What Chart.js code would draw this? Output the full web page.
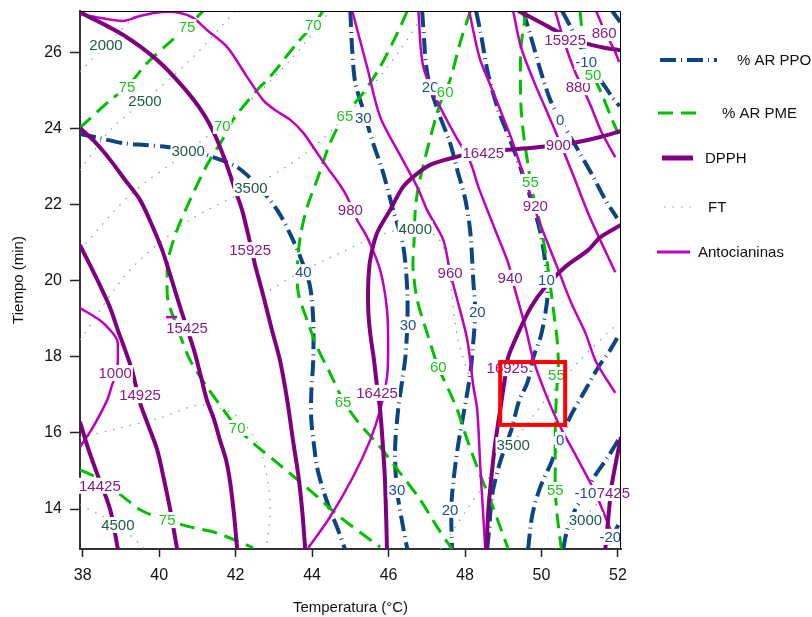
<!DOCTYPE html>
<html>
<head>
<meta charset="utf-8">
<script src="https://cdn.jsdelivr.net/npm/chart.js@4.4.1/dist/chart.umd.min.js"></script>
<style>
  html, body { margin: 0; padding: 0; background: #fff; }
</style>
</head>
<body>
<canvas id="contour-Chart" width="812" height="617"></canvas>
<script>
// 軸
const xTicks = [38, 40, 42, 44, 46, 48, 50, 52];
const yTicks = [14, 16, 18, 20, 22, 24, 26];

// % AR PPO
const ppo40 = [[37.93,23.85],[38.45,23.74],[39.06,23.61],[39.63,23.56],[40.21,23.51],[40.81,23.43],[41.41,23.24],[42.04,22.98],[42.56,22.51],[43.09,21.85],[43.5,21.07],[43.77,20.41],[43.95,19.83],[44.03,18.96],[44.03,17.91],[43.98,17.05],[43.98,16.34],[44.05,15.68],[44.13,15.1],[44.29,14.5],[44.47,13.98],[44.68,13.45],[44.86,12.95]];
const ppo30 = [[45,27.08],[45.05,26.05],[45.13,25.19],[45.34,24.48],[45.57,23.69],[45.86,22.83],[46.12,21.85],[46.38,20.93],[46.49,19.75],[46.49,18.83],[46.44,17.99],[46.36,17.39],[46.25,16.6],[46.17,15.55],[46.22,14.5],[46.38,13.53],[46.49,12.95]];
const ppo20 = [[46.88,27.08],[46.93,26.32],[46.98,25.66],[47.09,25.08],[47.35,24.3],[47.61,23.61],[47.8,22.9],[48.01,22.12],[48.14,21.25],[48.22,19.94],[48.27,19.17],[48.22,18.44],[48.14,17.57],[47.98,16.6],[47.82,15.68],[47.69,14.68],[47.64,13.98],[47.66,12.95]];
const ppo10 = [[48.29,27.08],[48.42,26.45],[48.61,25.4],[48.87,24.48],[49.18,23.69],[49.47,22.9],[49.73,22.12],[49.97,21.27],[50.1,20.49],[50.15,19.96],[50.15,19.49],[49.99,18.57],[49.79,17.99],[49.63,17.31],[49.42,16.86],[49.21,16.08],[48.92,15.24],[48.71,14.37],[48.63,13.45],[48.58,12.95]];
const ppo0a = [[49.52,27.08],[49.71,26.45],[49.97,25.53],[50.23,24.74],[50.49,24.22],[50.88,23.56],[51.33,22.77],[51.67,22.12],[51.98,21.64]];
const ppo0b = [[51.98,18.49],[51.8,18.18],[51.49,17.73],[51.15,17.13],[50.75,16.42],[50.49,15.81],[50.23,15.16],[49.97,14.58],[49.76,13.84],[49.65,12.95]];
const ppoM10a = [[50.54,27.08],[50.78,26.63],[51.01,26.19],[51.17,25.74],[51.54,25.27],[51.85,24.82],[52.04,24.58]];
const ppoM10b = [[52.01,15.81],[51.72,15.34],[51.41,14.89],[51.15,14.42],[50.88,13.98],[50.67,13.45],[50.57,12.95]];
const ppoM20a = [[51.85,27.08],[52.06,26.79]];
const ppoM20b = [[52.01,13.58],[51.85,13.27],[51.67,12.95]];

// % AR PME
const pme75a = [[37.93,24.01],[38.72,24.74],[39.16,25.08],[39.68,25.71],[40.29,26.27],[40.73,26.66],[41.15,27.08]];
const pme70 = [[44.29,27.08],[44.03,26.71],[43.61,26.24],[42.9,25.35],[42.56,25],[41.93,24.22],[41.65,23.69],[41.25,23.03],[40.81,22.12],[40.47,21.33],[40.23,20.54],[40.21,20.02],[40.23,19.49],[40.47,18.78],[40.81,17.91],[41.25,17.21],[41.78,16.47],[42.04,16.13],[42.46,15.73],[43.09,15.21],[44.03,14.42],[44.73,13.79],[45.78,13]];
const pme65 = [[46.49,27.08],[46.23,26.5],[45.78,25.61],[45.34,24.93],[44.86,24.35],[44.47,23.61],[44.13,22.64],[43.87,21.93],[43.69,21.14],[43.61,20.28],[43.64,19.67],[43.87,18.96],[44.13,18.26],[44.47,17.57],[44.81,16.86],[45.2,16.29],[45.78,15.63],[46.3,14.95],[46.83,14.24],[47.27,13.53],[47.66,12.95]];
const pme60 = [[48.14,27.08],[47.87,26.24],[47.61,25.27],[47.43,24.87],[47.27,24.4],[47.01,23.43],[46.78,22.46],[46.7,21.85],[46.67,21.07],[46.64,20.36],[46.75,19.49],[47.01,18.62],[47.3,17.73],[47.61,17.05],[47.8,16.6],[48.06,15.81],[48.32,15.1],[48.66,14.24],[48.92,13.53],[49.13,12.95]];
const pme55 = [[49.6,27.08],[49.47,26.19],[49.45,25.27],[49.47,24.48],[49.55,23.69],[49.65,23.03],[49.71,22.59],[49.81,22.12],[49.97,21.46],[50.12,20.67],[50.23,19.88],[50.33,19.09],[50.41,18.44],[50.44,17.78],[50.39,16.99],[50.36,16.08],[50.36,15.03],[50.36,14.5],[50.41,13.84],[50.52,12.95]];
const pme50 = [[51.01,27.08],[51.09,26.32],[51.22,25.79],[51.35,25.4],[51.59,24.87],[51.85,24.22],[52.03,23.82]];
const pme75b = [[37.93,15.03],[38.37,14.82],[39.06,14.32],[39.5,13.98],[39.95,13.79],[40.21,13.71],[40.81,13.53],[41.51,13.37],[42.46,12.98]];

// DPPH
const dpph15925a = [[37.93,27.05],[39.06,26.45],[39.95,25.79],[40.63,25.08],[41.15,24.4],[41.46,23.82],[41.72,23.17],[41.99,22.38],[42.17,21.85],[42.33,21.2],[42.51,20.41],[42.72,19.62],[42.95,18.7],[43.16,17.91],[43.35,16.86],[43.5,15.81],[43.64,14.89],[43.74,13.98],[43.82,12.95]];
const dpph15425 = [[37.93,24.01],[38.32,23.64],[38.72,23.17],[39.11,22.64],[39.5,22.12],[39.81,21.46],[40.08,20.8],[40.29,20.15],[40.49,19.49],[40.7,18.83],[40.91,18.18],[41.07,17.57],[41.25,16.86],[41.44,16.34],[41.59,15.81],[41.75,15.29],[41.86,14.68],[41.96,13.84],[42.04,12.95]];
const dpph14925 = [[37.93,20.93],[38.19,20.41],[38.45,19.88],[38.72,19.28],[38.92,18.7],[39.11,18.18],[39.29,17.65],[39.5,16.79],[39.71,16.21],[39.95,15.55],[40.13,14.76],[40.29,13.98],[40.47,12.95]];
const dpph14425 = [[37.93,16.29],[38.14,15.6],[38.37,14.95],[38.72,13.98],[38.92,12.95]];
const dpph16425 = [[52.08,23.93],[51.54,23.77],[50.96,23.64],[50.44,23.56],[49.71,23.48],[49.05,23.43],[48.35,23.38],[47.74,23.24],[47.09,23.04],[46.7,22.77],[46.38,22.46],[46.04,21.85],[45.7,21.25],[45.52,20.54],[45.47,19.94],[45.47,19.23],[45.52,18.62],[45.62,17.91],[45.7,17.21],[45.78,16.6],[45.86,15.55],[45.91,14.68],[45.96,12.95]];
const dpph16925 = [[52.08,21.46],[51.54,21.14],[51.22,20.8],[50.62,20.36],[50.1,19.83],[49.73,19.31],[49.39,18.62],[49.13,17.99],[49.05,17.47],[48.92,16.6],[48.79,15.73],[48.69,14.84],[48.61,13.98],[48.56,12.95]];
const dpph15925b = [[49.39,27.08],[49.71,26.92],[50.1,26.71],[50.49,26.5],[50.88,26.32],[51.3,26.19],[51.67,26.11],[52.08,26.05]];
const dpph17425 = [[52.08,15.89],[51.96,15.29],[51.83,14.58],[51.75,13.79],[51.67,12.95]];

// FT
const ft2000 = [[37.93,25.48],[38.61,26.19],[39.5,27.08]];
const ft2500 = [[37.93,22.9],[38.72,23.95],[39.63,24.74],[40.81,25.79],[41.99,27.08]];
const ft3000a = [[37.93,20.8],[39.24,22.25],[40.76,23.4],[42.12,24.48],[43.43,25.79],[44.47,27.08]];
const ft3500a = [[37.93,18.44],[39.24,20.28],[40.81,21.59],[42.4,22.43],[43.95,23.43],[45.26,24.74],[46.3,26.05],[46.96,27.08]];
const ft4000a = [[37.93,15.87],[38.98,16.13],[40.02,16.39],[41.07,16.73],[41.99,16.47],[42.59,15.68],[42.85,14.68],[42.9,13.84],[42.8,12.95]];
const ft4000b = [[42.9,19.75],[43.69,20.22],[44.73,20.72],[45.78,21.2],[46.7,21.38],[47.27,21.14],[47.53,20.59],[47.66,19.57],[47.82,18.44],[48.14,17.39]];
const ft3500b = [[47.35,12.95],[48.4,14.5],[49.24,15.71],[50.1,16.86],[51.01,17.91],[51.98,18.86]];
const ft3000b = [[50.36,12.95],[51.09,13.74],[51.54,14.24],[51.98,14.71]];
const ft4500 = [[37.93,14.11],[38.92,13.58],[39.63,12.95]];

// Antocianinas
const anto1000 = [[37.93,19.28],[38.45,18.96],[38.72,18.7],[38.9,18.44],[38.92,18.1],[38.9,17.65],[38.77,17.26],[38.64,16.86],[38.27,16.15],[37.93,15.63]];
const anto980 = [[37.93,27],[38.45,26.9],[39.06,26.82],[39.5,26.95],[40.02,27.05],[40.55,27.03],[40.89,26.9],[41.25,26.58],[41.78,26.13],[42.3,25.35],[42.72,24.74],[43.03,24.48],[43.43,24.22],[43.77,23.88],[44.08,23.43],[44.39,22.98],[44.73,22.51],[44.92,22.19],[45.18,21.59],[45.44,21.14],[45.78,20.28],[45.96,19.23],[45.99,18.26],[45.96,17.47],[45.78,16.6],[45.52,15.81],[45.07,14.84],[44.47,13.79],[43.9,12.98]];
const anto960 = [[45.05,27.08],[45.44,25.61],[45.78,24.3],[46.3,23.3],[46.75,22.46],[47.01,21.85],[47.43,21.07],[47.61,20.22],[47.8,19.49],[48.06,18.44],[48.22,17.21],[48.32,16.6],[48.4,15.1],[48.48,13.79],[48.53,12.95]];
const anto940 = [[46.78,27.08],[46.91,25.61],[47.35,24.56],[47.74,23.82],[48.14,23.11],[48.35,22.46],[48.79,21.33],[49.13,20.46],[49.31,19.75],[49.58,18.78],[49.79,17.91],[50.1,17.05],[50.44,16.26],[50.96,15.29],[51.41,14.42],[51.88,13.27]];
const anto920 = [[48.11,27.08],[48.24,26.45],[48.4,25.79],[48.66,25.14],[48.87,24.61],[49.21,23.74],[49.47,22.96],[49.71,22.25],[49.86,21.77],[50.1,21.14],[50.44,20.28],[50.78,19.41],[51.15,18.62],[51.43,17.86],[51.93,17.05]];
const anto900 = [[49.26,27.08],[49.47,26.11],[49.84,25.14],[50.18,24.35],[50.44,23.74],[50.65,23.22],[50.88,22.64],[51.22,21.77],[51.57,20.99],[51.93,20.22]];
const anto880 = [[50.36,27.08],[50.62,26.19],[50.88,25.48],[51.07,25.08],[51.28,24.61],[51.57,23.9],[51.93,23.24]];
const anto860 = [[51.43,27.08],[51.64,26.58],[51.93,26],[52.03,25.74]];
const antoBit = [[40.18,19.04],[40.47,19.04]];

// 等高線ラベル [x, y, text]
const ppoLabels = [[43.77,20.22,"40"],[45.34,24.27,"30"],[46.51,18.83,"30"],[46.22,14.5,"30"],[47.09,25.08,"20"],[48.32,19.17,"20"],[47.61,13.98,"20"],[50.13,20.02,"10"],[50.49,24.22,"0"],[50.49,15.81,"0"],[51.17,25.74,"-10"],[51.15,14.42,"-10"],[51.8,13.27,"-20"]];
const pmeLabels = [[40.73,26.66,"75"],[39.16,25.08,"75"],[44.03,26.71,"70"],[41.65,24.06,"70"],[42.04,16.13,"70"],[44.86,24.32,"65"],[44.81,16.81,"65"],[47.48,24.95,"60"],[47.3,17.73,"60"],[49.71,22.59,"55"],[50.39,17.52,"55"],[50.36,14.5,"55"],[51.35,25.4,"50"],[40.21,13.71,"75"]];
const dpphLabels = [[42.38,20.8,"15925"],[40.73,18.75,"15425"],[39.5,16.99,"14925"],[38.45,14.61,"14425"],[48.48,23.35,"16425"],[45.7,17.05,"16425"],[49.11,17.7,"16925"],[50.62,26.32,"15925"],[51.77,14.42,"17425"]];
const ftLabels = [[38.61,26.19,"2000"],[39.63,24.72,"2500"],[40.76,23.4,"3000"],[42.4,22.43,"3500"],[46.7,21.35,"4000"],[49.26,15.68,"3500"],[51.15,13.71,"3000"],[38.92,13.58,"4500"]];
const antoLabels = [[38.85,17.57,"1000"],[45,21.85,"980"],[47.61,20.2,"960"],[49.18,20.07,"940"],[49.84,21.96,"920"],[50.44,23.56,"900"],[50.96,25.08,"880"],[51.64,26.5,"860"]];

// 赤枠
const boxX = [48.92, 50.62];
const boxY = [16.21, 17.86];

const FONT = '"Liberation Sans", Arial, sans-serif';
const sty = {
  ppo: { color: "#0b4682", width: 4, dash: [16, 5, 1, 5] },
  pme: { color: "#00c000", width: 3, dash: [15, 8] },
  dpph: { color: "#7f007f", width: 4, dash: [] },
  ft: { color: "#6aa898", width: 1.2, dash: [1.5, 7] },
  anto: { color: "#c000c0", width: 2.5, dash: [] },
};

const makeSet = (pts, s) => ({
  data: pts.map(([x, y]) => ({ x, y })),
  showLine: true,
  pointRadius: 0,
  borderColor: s.color,
  borderWidth: s.width,
  borderDash: s.dash,
  tension: 0.3,
  fill: false,
});

// index 0 が一番上に描かれる
const datasets = [
  ...[dpph15925a, dpph15425, dpph14925, dpph14425, dpph16425, dpph16925, dpph15925b, dpph17425].map((p) => makeSet(p, sty.dpph)),
  ...[anto1000, anto980, anto960, anto940, anto920, anto900, anto880, anto860, antoBit].map((p) => makeSet(p, sty.anto)),
  ...[pme75a, pme70, pme65, pme60, pme55, pme50, pme75b].map((p) => makeSet(p, sty.pme)),
  ...[ppo40, ppo30, ppo20, ppo10, ppo0a, ppo0b, ppoM10a, ppoM10b, ppoM20a, ppoM20b].map((p) => makeSet(p, sty.ppo)),
  ...[ft2000, ft2500, ft3000a, ft3500a, ft4000a, ft4000b, ft3500b, ft3000b, ft4500].map((p) => makeSet(p, sty.ft)),
];

const labelGroups = [
  [ftLabels, "#1d5a48"],
  [dpphLabels, "#8a1a88"],
  [antoLabels, "#8a1a88"],
  [ppoLabels, "#1b4f8e"],
  [pmeLabels, "#1fc21f"],
];

const legendItems = [
  { text: "% AR PPO", s: sty.ppo, x0: 660, x1: 717, tx: 737, y: 60 },
  { text: "% AR PME", s: sty.pme, x0: 658, x1: 702, tx: 722, y: 113 },
  { text: "DPPH", s: { ...sty.dpph, width: 5 }, x0: 662, x1: 693, tx: 705, y: 158 },
  { text: "FT", s: sty.ft, x0: 664, x1: 697, tx: 708, y: 207 },
  { text: "Antocianinas", s: { ...sty.anto, width: 3 }, x0: 657, x1: 690, tx: 698, y: 252 },
];

// ラベル・枠・凡例
const overlayPlugin = {
  id: "overlay",
  afterDatasetsDraw(chart) {
    const { ctx, chartArea: a, scales } = chart;
    const sx = scales.x, sy = scales.y;
    ctx.save();
    ctx.font = "15px " + FONT;
    ctx.textAlign = "center";
    ctx.textBaseline = "middle";
    labelGroups.forEach(([list, color]) => {
      list.forEach(([vx, vy, t]) => {
        const px = sx.getPixelForValue(vx);
        const py = sy.getPixelForValue(vy);
        const w = ctx.measureText(t).width;
        ctx.fillStyle = "#fff";
        ctx.fillRect(px - w / 2 - 1, py - 8, w + 2, 16);
        ctx.fillStyle = color;
        ctx.fillText(t, px, py + 1);
      });
    });
    // 赤枠
    const bx0 = sx.getPixelForValue(boxX[0]), bx1 = sx.getPixelForValue(boxX[1]);
    const by0 = sy.getPixelForValue(boxY[1]), by1 = sy.getPixelForValue(boxY[0]);
    ctx.strokeStyle = "#ff0000";
    ctx.lineWidth = 4;
    ctx.strokeRect(bx0, by0, bx1 - bx0, by1 - by0);
    // 上・右の枠線
    ctx.strokeStyle = "#000";
    ctx.lineWidth = 1;
    ctx.beginPath();
    ctx.moveTo(a.left, a.top + 0.5);
    ctx.lineTo(a.right - 0.5, a.top + 0.5);
    ctx.lineTo(a.right - 0.5, a.bottom);
    ctx.stroke();
    ctx.restore();
  },
  afterDraw(chart) {
    const { ctx } = chart;
    ctx.save();
    ctx.font = "15px " + FONT;
    ctx.textAlign = "left";
    ctx.textBaseline = "middle";
    legendItems.forEach((it) => {
      ctx.strokeStyle = it.s.color;
      ctx.lineWidth = it.s.width;
      ctx.setLineDash(it.s.dash);
      ctx.beginPath();
      ctx.moveTo(it.x0, it.y);
      ctx.lineTo(it.x1, it.y);
      ctx.stroke();
      ctx.setLineDash([]);
      ctx.fillStyle = "#111";
      ctx.fillText(it.text, it.tx, it.y + 1);
    });
    ctx.restore();
  },
};

document.addEventListener("DOMContentLoaded", () => {
  const ctx = document.getElementById("contour-Chart");
  if (!ctx) {
    console.error("Canvas element not found");
    return;
  }
  new Chart(ctx, {
    type: "scatter",
    data: { datasets },
    plugins: [overlayPlugin],
    options: {
      responsive: false,
      animation: false,
      events: [],
      layout: { padding: { top: 11, right: 191, left: 0, bottom: 0 } },
      plugins: { legend: { display: false }, tooltip: { enabled: false } },
      scales: {
        x: {
          type: "linear",
          min: 37.93,
          max: 52.08,
          afterBuildTicks: (s) => { s.ticks = xTicks.map((v) => ({ value: v })); },
          afterFit: (s) => { s.height = 68; s.paddingLeft = 0; s.paddingRight = 0; },
          grid: { drawOnChartArea: false, tickLength: 8, color: "#222", tickWidth: 1.5 },
          border: { display: true, color: "#333", width: 2 },
          ticks: { font: { family: FONT, size: 16 }, color: "#111", padding: 9, maxRotation: 0, autoSkip: false, callback: (v) => v },
          title: { display: true, text: "Temperatura (°C)", font: { family: FONT, size: 15 }, color: "#111", padding: { top: 0, bottom: 0 } },
        },
        y: {
          type: "linear",
          min: 12.95,
          max: 27.08,
          afterBuildTicks: (s) => { s.ticks = yTicks.map((v) => ({ value: v })); },
          afterFit: (s) => { s.width = 80; s.paddingTop = 0; s.paddingBottom = 0; },
          grid: { drawOnChartArea: false, tickLength: 10, color: "#222", tickWidth: 1.5 },
          border: { display: true, color: "#333", width: 2 },
          ticks: { font: { family: FONT, size: 16 }, color: "#111", padding: 8, autoSkip: false, callback: (v) => v },
          title: { display: true, text: "Tiempo (min)", font: { family: FONT, size: 15 }, color: "#111", padding: { top: 10, bottom: 0 } },
        },
      },
    },
  });
});
</script>
</body>
</html>
